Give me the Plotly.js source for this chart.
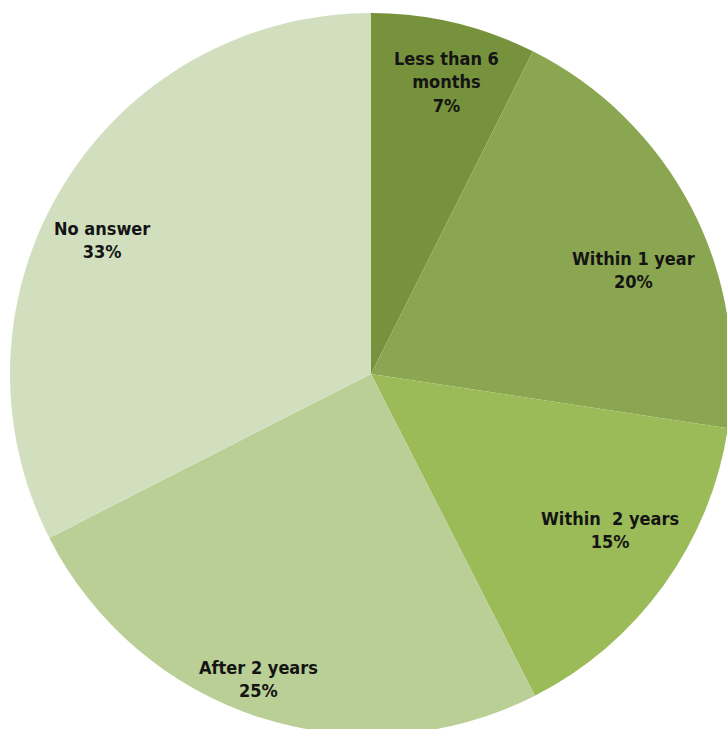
<!DOCTYPE html>
<html>
<head>
<meta charset="utf-8">
<script src="https://cdn.plot.ly/plotly-3.0.1.min.js"></script>
<style>
  html, body { margin: 0; padding: 0; background: #ffffff; overflow: hidden; width: 727px; height: 729px; }
  #chart { position: absolute; left: 10px; top: 13px; width: 722px; height: 722px; }
</style>
</head>
<body>
<div id="chart"></div>
<script>
// Data
const categories = ["Less than 6 months", "Within 1 year", "Within  2 years", "After 2 years", "No answer"];
const sliceValues = [7.4, 20.0, 15.1, 25.0, 32.5];
const percentLabels = ["7%", "20%", "15%", "25%", "33%"];
const labelLines = ["Less than 6<br>months", "Within 1 year", "Within  2 years", "After 2 years", "No answer"];

// Styling / placement (not data)
const sliceColors = ["#76923c", "#8ba650", "#9bbb59", "#b9cf96", "#d2dfbf"];
const labelAnchors = [[0.604, 0.904], [0.863, 0.644], [0.831, 0.284], [0.3435, 0.078], [0.128, 0.686]];

const trace = {
  type: "pie",
  labels: categories,
  values: sliceValues,
  sort: false,
  direction: "clockwise",
  rotation: 0,
  marker: { colors: sliceColors, line: { width: 0 } },
  textinfo: "none",
  hoverinfo: "label+percent",
  domain: { x: [0, 1], y: [0, 1] }
};

const annotations = categories.map((c, i) => ({
  xref: "paper", yref: "paper",
  x: labelAnchors[i][0], y: labelAnchors[i][1],
  xanchor: "center", yanchor: "middle",
  text: labelLines[i] + "<br>" + percentLabels[i],
  showarrow: false,
  align: "center",
  font: { family: "DejaVu Sans Condensed, DejaVu Sans, sans-serif", size: 18, color: "#141414", weight: "bold" }
}));

const layout = {
  width: 722, height: 722,
  margin: { l: 0, r: 0, t: 0, b: 0, pad: 0 },
  paper_bgcolor: "#ffffff",
  showlegend: false,
  annotations: annotations
};

Plotly.newPlot("chart", [trace], layout, { staticPlot: true, displayModeBar: false });
</script>
</body>
</html>
